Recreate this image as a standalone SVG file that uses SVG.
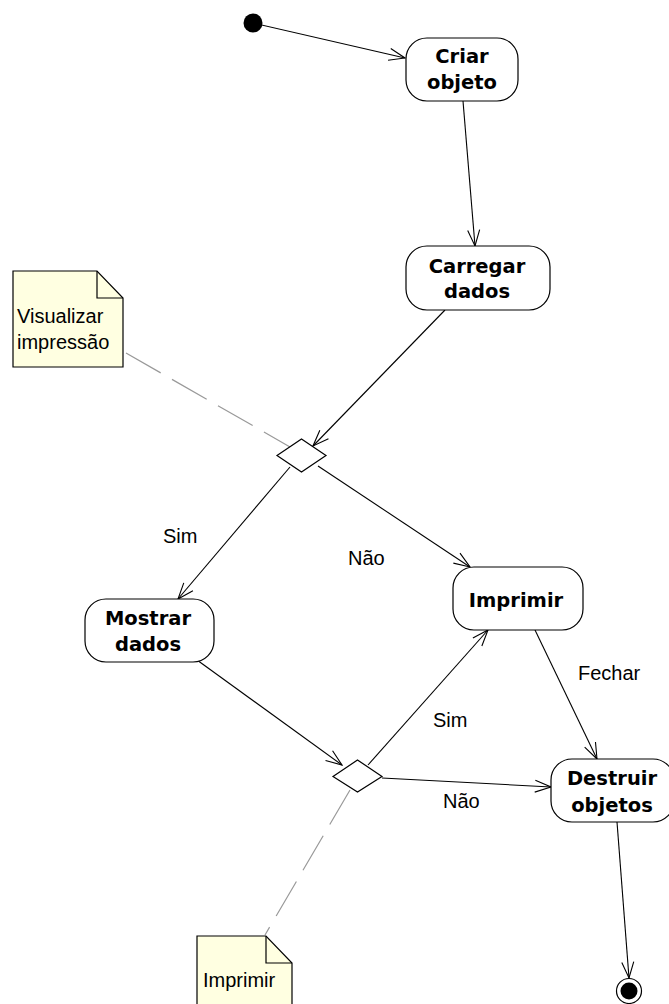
<svg xmlns="http://www.w3.org/2000/svg" width="669" height="1004" viewBox="0 0 669 1004">
<style>
.node rect{fill:#fff;stroke:#000;stroke-width:1.2}
.bold{font-family:"DejaVu Sans",sans-serif;font-weight:bold;font-size:19.5px;fill:#000;text-anchor:middle}
.lbl{font-family:"Liberation Sans",Arial,sans-serif;font-size:20px;fill:#000}
.note path.body{fill:#ffffe1;stroke:#000;stroke-width:1.2}
.note path.fold{fill:none;stroke:#000;stroke-width:1.2}
.edge{fill:none;stroke:#000;stroke-width:1.1}
.anchor{fill:none;stroke:#999;stroke-width:1.2;stroke-dasharray:40 13}
.diamond{fill:#fff;stroke:#000;stroke-width:1.2}
</style>
<defs>
<marker id="arr" viewBox="-17 -8 18 16" refX="0" refY="0" markerWidth="18" markerHeight="16" orient="auto" markerUnits="userSpaceOnUse">
<path d="M-16,-6 L0,0 L-16,6" fill="none" stroke="#000" stroke-width="1.1"/>
</marker>
</defs>
<rect width="669" height="1004" fill="#fff"/>

<g id="connectors">
<path class="edge" d="M253,23 L405,58" marker-end="url(#arr)"/>
<path class="edge" d="M463,101 L475,246" marker-end="url(#arr)"/>
<path class="edge" d="M445,310 L313,446" marker-end="url(#arr)"/>
<path class="edge" d="M290,467 L178,599" marker-end="url(#arr)"/>
<path class="edge" d="M318,466 L470,567" marker-end="url(#arr)"/>
<path class="edge" d="M197,660 L342,765" marker-end="url(#arr)"/>
<path class="edge" d="M368,765 L488,630" marker-end="url(#arr)"/>
<path class="edge" d="M382,778 L551,787" marker-end="url(#arr)"/>
<path class="edge" d="M535,630 L597,759" marker-end="url(#arr)"/>
<path class="edge" d="M617,822 L629,978" marker-end="url(#arr)"/>
<path class="anchor" d="M126,353 L290,447"/>
<path class="anchor" d="M350,790 L265,935"/>
<text class="lbl" x="163" y="543">Sim</text>
<text class="lbl" x="348" y="565">Não</text>
<text class="lbl" x="578" y="680">Fechar</text>
<text class="lbl" x="433" y="727">Sim</text>
<text class="lbl" x="443" y="808">Não</text>
</g>

<g id="initial"><circle cx="253" cy="23" r="9.5" fill="#000"/></g>

<g id="criar" class="node"><rect x="406" y="38" width="112" height="63" rx="21"/>
<text class="bold" x="462" y="63">Criar</text><text class="bold" x="462" y="89">objeto</text></g>

<g id="carregar" class="node"><rect x="406" y="246" width="144" height="64" rx="21"/>
<text class="bold" x="477" y="273">Carregar</text><text class="bold" x="477" y="298">dados</text></g>

<g id="mostrar" class="node"><rect x="85" y="599" width="129" height="63" rx="21"/>
<text class="bold" x="148" y="625">Mostrar</text><text class="bold" x="148" y="651">dados</text></g>

<g id="imprimir" class="node"><rect x="453" y="567" width="130" height="63" rx="21"/>
<text class="bold" x="516" y="607">Imprimir</text></g>

<g id="destruir" class="node"><rect x="551" y="759" width="123" height="63" rx="21"/>
<text class="bold" x="612" y="785">Destruir</text><text class="bold" x="612" y="812">objetos</text></g>

<g id="decision1"><path class="diamond" d="M301.5,439 L326,455.5 L301.5,472 L277,455.5 Z"/></g>
<g id="decision2"><path class="diamond" d="M357.5,760 L382,776.5 L357.5,792 L333,776.5 Z"/></g>

<g id="final"><circle cx="629" cy="991" r="12.5" fill="#fff" stroke="#000" stroke-width="1.2"/><circle cx="629" cy="991" r="8.5" fill="#000"/></g>

<g id="note1" class="note">
<path class="body" d="M13,271 L97,271 L123,298 L123,367 L13,367 Z"/>
<path class="fold" d="M97,271 L97,298 L123,298"/>
<text class="lbl" x="17" y="323">Visualizar</text>
<text class="lbl" x="17" y="349">impressão</text>
</g>

<g id="note2" class="note">
<path class="body" d="M197,936 L266,936 L292,963 L292,1010 L197,1010 Z"/>
<path class="fold" d="M266,936 L266,963 L292,963"/>
<text class="lbl" x="203" y="987">Imprimir</text>
</g>
</svg>
